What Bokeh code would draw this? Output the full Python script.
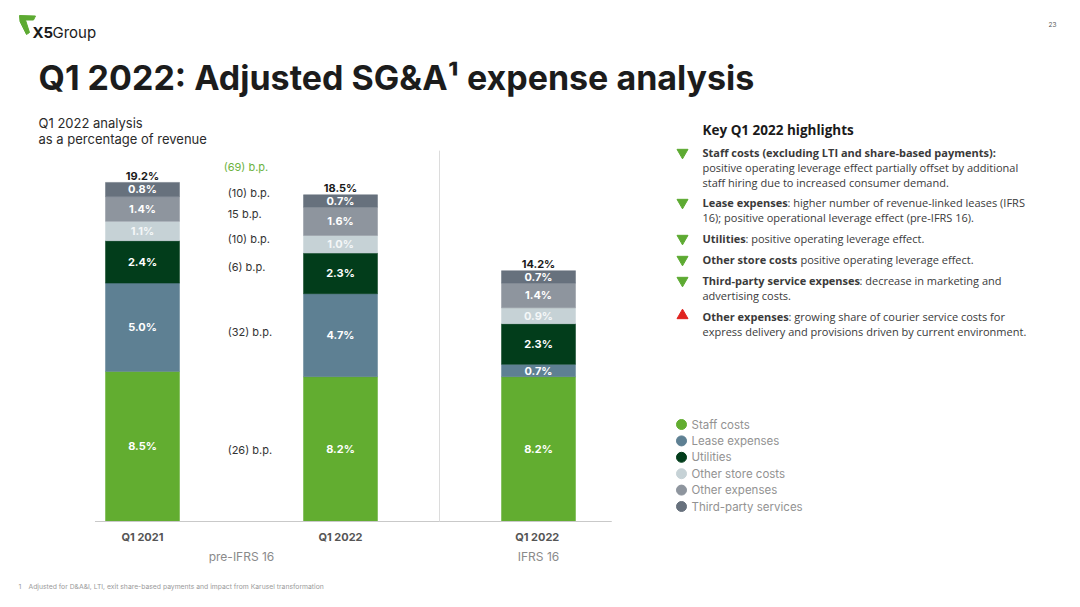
from bokeh.plotting import figure
from bokeh.models import Range1d
from bokeh.core.properties import value
from bokeh.embed import file_html
from bokeh.resources import INLINE

# ---------------- data ----------------
categories = ["Q1 2021", "Q1 2022", "Q1  2022"]
groups = ["pre-IFRS 16", "IFRS 16"]
group_members = [[0, 1], [2]]
series = ["Staff costs", "Lease expenses", "Utilities", "Other store costs",
          "Other expenses", "Third-party services"]
staff = [8.5, 8.2, 8.2]
lease = [5.0, 4.7, 0.7]
utilities = [2.4, 2.3, 2.3]
other_store = [1.1, 1.0, 0.9]
other_exp = [1.4, 1.6, 1.4]
third_party = [0.8, 0.7, 0.7]
totals = [19.2, 18.5, 14.2]
total_bp = "(69) b.p."
series_bp = ["(26) b.p.", "(32) b.p.", "(6) b.p.", "(10) b.p.", "15 b.p.", "(10) b.p."]

colors = ["#62AD30", "#5E8093", "#023D1B", "#C6D2D6", "#8E959E", "#67717D"]
label_colors = ["#FFFFFF", "#FFFFFF", "#FFFFFF", "#F4F7F8", "#FFFFFF", "#FFFFFF"]

# ---------------- layout constants ----------------
W, H = 1064, 591
PX = 17.66               # pixels per percentage point
BASE = 521               # baseline (px from top)
SPACING = 198            # px between bar centres
X0 = 142                 # first bar centre
BAR_W = 74 / SPACING
FONT = "Inter"
HFONT = "Open Sans"

p = figure(width=W, height=H,
           x_range=Range1d(-X0 / SPACING, (W - X0) / SPACING),
           y_range=Range1d(-(H - BASE) / PX, BASE / PX),
           output_backend="svg", toolbar_location=None, min_border=0,
           x_axis_location=None, y_axis_location=None)
p.grid.visible = False
p.outline_line_color = None
p.background_fill_color = "white"
p.border_fill_color = "white"
p.extra_x_ranges = {"px": Range1d(0, W)}
p.extra_y_ranges = {"px": Range1d(H, 0)}


def T(x, y, s, size, color="#222222", bold=False, align="left", font=FONT):
    p.text(x=[x], y=[y], text=[s], x_range_name="px", y_range_name="px",
           text_font=value(font), text_font_size=f"{size}px", text_color=color,
           text_font_style="bold" if bold else "normal",
           text_align=align, text_baseline="middle")


# ---------------- header ----------------
p.patch(x=[19, 35, 33, 25, 29, 26, 19.5],
        y=[15, 15.5, 19.5, 19.5, 32, 34, 21],
        x_range_name="px", y_range_name="px", fill_color="#5DAA32", line_color="#5DAA32")
T(32, 32, "X5", 15, "#1a1a1a", bold=True)
T(52, 32, "Group", 15, "#1a1a1a")
T(1052, 24, "23", 6.5, "#555555", align="center")

T(38, 77, "Q1 2022: Adjusted SG&A\u00b9 expense analysis", 34, "#1c1c1c", bold=True)
T(38, 122, "Q1 2022 analysis", 13, "#2b2b2b")
T(38, 138, "as a percentage of revenue", 13, "#2b2b2b")

# ---------------- bars ----------------
x_idx = list(range(len(categories)))
stack = [staff, lease, utilities, other_store, other_exp, third_party]
bottom = [0.0] * len(categories)
mids_all = []
for vals, col, lc in zip(stack, colors, label_colors):
    top = [b + v for b, v in zip(bottom, vals)]
    p.vbar(x=x_idx, bottom=bottom, top=top, width=BAR_W,
           fill_color=col, line_color=col, line_width=0.5)
    mids = [(b + t) / 2 for b, t in zip(bottom, top)]
    mids_all.append(mids)
    p.text(x=x_idx, y=mids, text=[f"{v:.1f}%" for v in vals],
           text_font=value(FONT), text_font_size="11px", text_font_style="bold",
           text_color=lc, text_align="center", text_baseline="middle")
    bottom = top

p.text(x=x_idx, y=[t + 6.5 / PX for t in totals], text=[f"{t:.1f}%" for t in totals],
       text_font=value(FONT), text_font_size="11px", text_font_style="bold",
       text_color="#1a1a1a", text_align="center", text_baseline="middle")

# baseline & separator
p.segment(x0=[-0.24], y0=[0], x1=[2.37], y1=[0], line_color="#c9c9c9", line_width=1)
p.segment(x0=[1.5], y0=[0], x1=[1.5], y1=[21.0], line_color="#dcdcdc", line_width=1)

# category & group labels
p.text(x=x_idx, y=[-15 / PX] * 3, text=categories, text_font=value(FONT),
       text_font_size="11px", text_font_style="bold", text_color="#555555",
       text_align="center", text_baseline="middle")
p.text(x=[sum(m) / len(m) for m in group_members], y=[-35 / PX] * 2, text=groups,
       text_font=value(FONT), text_font_size="12px", text_color="#8a8a8a",
       text_align="center", text_baseline="middle")

# basis-point change labels between the two pre-IFRS bars
bp_x = 0.43
nudge_px = [-2, -1, 1, -1, 1.5, 2.5]
bp_y = [(m[0] + m[1]) / 2 + n / PX for m, n in zip(mids_all, nudge_px)]
p.text(x=[bp_x] * len(series_bp), y=bp_y, text=series_bp, text_font=value(FONT),
       text_font_size="11px", text_color="#333333", text_align="left",
       text_baseline="middle")
p.text(x=[bp_x - 0.02], y=[max(totals[0], totals[1]) + 15 / PX], text=[total_bp],
       text_font=value(FONT), text_font_size="11px", text_color="#6DB33F",
       text_align="left", text_baseline="middle")

# ---------------- highlights ----------------
T(702, 129, "Key Q1 2022 highlights", 13.5, "#1a1a1a", bold=True, font=HFONT)

HC = "#3a3a3a"
HS = 11
items = [
    ("down", 152, [
        [(702, "Staff costs (excluding LTI and share-based payments):", True)],
        [(702, "positive operating leverage effect partially offset by additional", False)],
        [(702, "staff hiring due to increased consumer demand.", False)]]),
    ("down", 202, [
        [(702, "Lease expenses", True), (787, ": higher number of revenue-linked leases (IFRS", False)],
        [(702, "16); positive operational leverage effect (pre-IFRS 16).", False)]]),
    ("down", 238, [
        [(702, "Utilities", True), (745, ": positive operating leverage effect.", False)]]),
    ("down", 259, [
        [(702, "Other store costs", True), (800, "positive operating leverage effect.", False)]]),
    ("down", 280, [
        [(702, "Third-party service expenses", True), (859, ": decrease in marketing and", False)],
        [(702, "advertising costs.", False)]]),
    ("up", 316, [
        [(702, "Other expenses", True), (788, ": growing share of courier service costs for", False)],
        [(702, "express delivery and provisions driven by current environment.", False)]]),
]
for kind, y0, lines in items:
    if kind == "down":
        p.scatter(x=[682], y=[y0], marker="inverted_triangle", size=11,
                  fill_color="#5DAA32", line_color="#5DAA32",
                  x_range_name="px", y_range_name="px")
    else:
        p.scatter(x=[682], y=[y0 - 1], marker="triangle", size=11,
                  fill_color="#E0231F", line_color="#E0231F",
                  x_range_name="px", y_range_name="px")
    for i, parts in enumerate(lines):
        for x, s, b in parts:
            T(x, y0 + i * 14.8, s, HS, HC, bold=b, font=HFONT)

# ---------------- legend ----------------
leg_y = [424, 440.4, 456.8, 473.2, 489.6, 506]
for name, col, ly in zip(series, colors, leg_y):
    p.scatter(x=[681], y=[ly], marker="circle", size=10,
              fill_color=col, line_color=col, x_range_name="px", y_range_name="px")
    T(691, ly, name, 11.5, "#929292")

# ---------------- footnote ----------------
T(18, 586, "1", 6.8, "#9a9a9a")
T(28, 586, "Adjusted for D&A&I, LTI, exit share-based payments and impact from Karusel transformation",
  6.8, "#9a9a9a")

open("out.html", "w").write(file_html(p, INLINE))
